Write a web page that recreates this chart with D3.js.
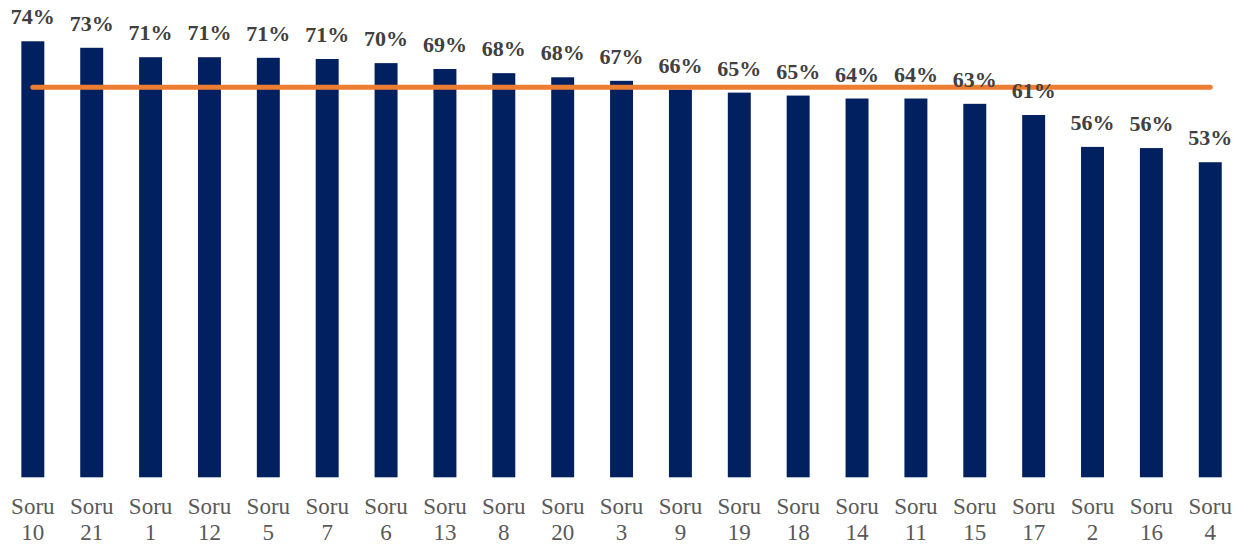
<!DOCTYPE html>
<html>
<head>
<meta charset="utf-8">
<script src="https://cdn.jsdelivr.net/npm/d3@7"></script>
<style>
  html, body { margin: 0; padding: 0; background: #fff; }
  svg { display: block; }
  text { font-family: "Times New Roman", "Liberation Serif", serif; }
</style>
</head>
<body>
<svg id="chart" width="1248" height="546"></svg>
<script>
const categories = ["Soru 10","Soru 21","Soru 1","Soru 12","Soru 5","Soru 7","Soru 6","Soru 13","Soru 8","Soru 20","Soru 3","Soru 9","Soru 19","Soru 18","Soru 14","Soru 11","Soru 15","Soru 17","Soru 2","Soru 16","Soru 4"];
const values = [73.9,72.8,71.2,71.2,71.1,70.9,70.2,69.2,68.5,67.8,67.2,65.7,65.2,64.7,64.2,64.2,63.3,61.4,56.0,55.8,53.4];
const valueLabels = ["74%","73%","71%","71%","71%","71%","70%","69%","68%","68%","67%","66%","65%","65%","64%","64%","63%","61%","56%","56%","53%"];
const averageValue = 66.1;

const svg = d3.select("#chart");
const baseY = 477.3;
const x = d3.scaleBand().domain(categories).range([3.4, 1239.7]).paddingInner(0.61).paddingOuter(0.305);
const y = d3.scaleLinear().domain([0, 80]).range([baseY, baseY - 80 * 5.9]);

svg.append("g").selectAll("rect").data(categories).join("rect")
  .attr("x", d => x(d))
  .attr("width", x.bandwidth())
  .attr("y", (d, i) => y(values[i]))
  .attr("height", (d, i) => baseY - y(values[i]))
  .attr("fill", "#002060");

// average line
const lineData = [categories[0], categories[categories.length - 1]].map(c => ({c, v: averageValue}));
svg.append("path")
  .datum(lineData)
  .attr("d", d3.line().x(d => x(d.c) + x.bandwidth() / 2).y(d => y(d.v)))
  .attr("fill", "none")
  .attr("stroke", "#ED7D31")
  .attr("stroke-width", 5)
  .attr("stroke-linecap", "round");

// value labels
svg.append("g").selectAll("text").data(categories).join("text")
  .attr("x", d => x(d) + x.bandwidth() / 2)
  .attr("y", (d, i) => y(values[i]) - 17)
  .attr("text-anchor", "middle")
  .attr("font-weight", "bold")
  .attr("font-size", 22)
  .attr("fill", "#404040")
  .text((d, i) => valueLabels[i]);

// category labels
const catG = svg.append("g").selectAll("text").data(categories).join("text")
  .attr("text-anchor", "middle")
  .attr("font-size", 23)
  .attr("fill", "#595959");
catG.each(function(d) {
  const parts = d.split(" ");
  const cx = x(d) + x.bandwidth() / 2;
  d3.select(this).append("tspan").attr("x", cx).attr("y", 514).text(parts[0]);
  d3.select(this).append("tspan").attr("x", cx).attr("y", 540).text(parts[1]);
});
</script>
</body>
</html>
